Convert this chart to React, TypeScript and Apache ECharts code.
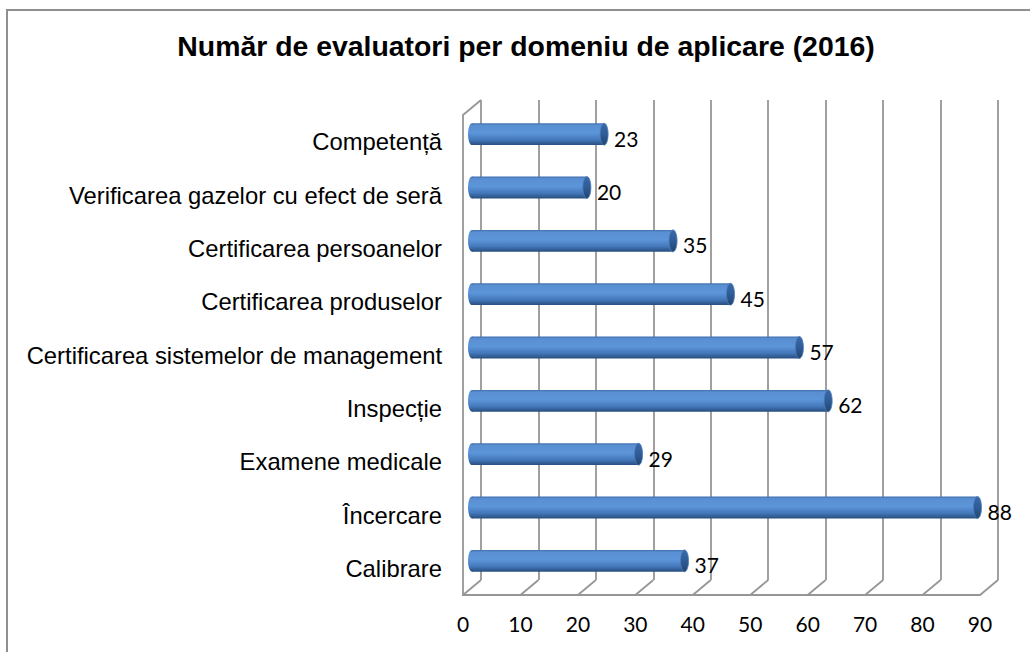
import React, { useEffect, useRef } from "react";
import * as echarts from "echarts";

const TITLE = "Număr de evaluatori per domeniu de aplicare (2016)";
const CATEGORIES = [
  "Competență",
  "Verificarea gazelor cu efect de seră",
  "Certificarea persoanelor",
  "Certificarea produselor",
  "Certificarea sistemelor de management",
  "Inspecție",
  "Examene medicale",
  "Încercare",
  "Calibrare",
];
const VALUES = [23, 20, 35, 45, 57, 62, 29, 88, 37];
const AXIS_TICKS = [0, 10, 20, 30, 40, 50, 60, 70, 80, 90];
const AXIS_MIN = 0;
const AXIS_MAX = 90;
const AXIS_STEP = 10;

// 3D depth offsets (style)
const DX = 18;
const DY = 15;
const GRID_W = 517;
const GRID_H = 480;
const FRONT_LEFT = 463;
const FRONT_TOP = 115;

const GRID_COLOR = "#969696";
const GRID_WIDTH = 1.8;

export default function App() {
  const ref = useRef<HTMLDivElement>(null);
  useEffect(() => {
    if (!ref.current) return;
    const chart = echarts.init(ref.current, null, { renderer: "svg" });
    const bodyGrad = () =>
      new echarts.graphic.LinearGradient(0, 0, 0, 1, [
        { offset: 0, color: "#3f70b0" },
        { offset: 0.1, color: "#5a8fd2" },
        { offset: 0.45, color: "#5c95d9" },
        { offset: 0.75, color: "#4479bb" },
        { offset: 1, color: "#274d7f" },
      ]);
    const capGrad = () =>
      new echarts.graphic.LinearGradient(0, 0, 0, 1, [
        { offset: 0, color: "#3a6aa8" },
        { offset: 0.5, color: "#2f5c96" },
        { offset: 1, color: "#22466f" },
      ]);

    const option: any = {
      animation: false,
      backgroundColor: "#ffffff",
      graphic: [
        {
          type: "polyline",
          silent: true,
          shape: { points: [[7, 652], [7, 10], [1030, 10]] },
          style: { stroke: "#8f8f8f", lineWidth: 2, fill: "none" },
        },
        {
          type: "text",
          x: 526,
          y: 46,
          style: {
            text: TITLE,
            font: "bold 28.4px 'Liberation Sans', Arial, sans-serif",
            fill: "#000000",
            align: "center",
            verticalAlign: "middle",
          },
        },
      ],
      grid: [
        // back wall
        { left: FRONT_LEFT + DX, top: FRONT_TOP - DY, width: GRID_W, height: GRID_H },
        // front plane
        { left: FRONT_LEFT, top: FRONT_TOP, width: GRID_W, height: GRID_H },
        // middle depth (bars)
        { left: FRONT_LEFT + DX / 2, top: FRONT_TOP - DY / 2, width: GRID_W, height: GRID_H },
      ],
      xAxis: [
        {
          gridIndex: 0,
          type: "value",
          min: AXIS_MIN,
          max: AXIS_MAX,
          interval: AXIS_STEP,
          axisLine: { show: false },
          axisTick: { show: false },
          axisLabel: { show: false },
          splitLine: { show: true, lineStyle: { color: GRID_COLOR, width: GRID_WIDTH } },
        },
        {
          gridIndex: 1,
          type: "value",
          min: AXIS_MIN,
          max: AXIS_MAX,
          interval: AXIS_STEP,
          axisLine: { show: true, lineStyle: { color: GRID_COLOR, width: GRID_WIDTH } },
          axisTick: { show: false },
          axisLabel: {
            show: true,
            margin: 18,
            color: "#000000",
            fontFamily: "Lato",
            fontSize: 21,
          },
          splitLine: { show: false },
        },
        {
          gridIndex: 2,
          type: "value",
          min: AXIS_MIN,
          max: AXIS_MAX,
          interval: AXIS_STEP,
          show: false,
          splitLine: { show: false },
        },
      ],
      yAxis: [
        {
          gridIndex: 0,
          type: "value",
          show: false,
          splitLine: { show: false },
        },
        {
          gridIndex: 1,
          type: "category",
          inverse: true,
          data: CATEGORIES,
          axisLine: { show: true, lineStyle: { color: GRID_COLOR, width: GRID_WIDTH } },
          axisTick: { show: false },
          splitLine: { show: false },
          axisLabel: {
            show: true,
            margin: 21,
            color: "#000000",
            fontFamily: "'Liberation Sans', Arial, sans-serif",
            fontSize: 23.8,
          },
        },
        {
          gridIndex: 2,
          type: "category",
          inverse: true,
          data: CATEGORIES,
          show: false,
        },
      ],
      series: [
        {
          type: "custom",
          xAxisIndex: 1,
          yAxisIndex: 1,
          clip: false,
          silent: true,
          data: AXIS_TICKS.map((v) => [v, 0]),
          renderItem: (params: any, api: any) => {
            const cs = params.coordSys;
            const x = api.coord([api.value(0), 0])[0];
            const bottom = cs.y + cs.height;
            const children: any[] = [
              {
                type: "line",
                shape: { x1: x, y1: bottom, x2: x + DX, y2: bottom - DY },
                style: { stroke: GRID_COLOR, lineWidth: GRID_WIDTH },
              },
            ];
            if (params.dataIndex === 0) {
              children.push({
                type: "line",
                shape: { x1: x, y1: cs.y, x2: x + DX, y2: cs.y - DY },
                style: { stroke: GRID_COLOR, lineWidth: GRID_WIDTH },
              });
            }
            return { type: "group", children };
          },
        },
        {
          type: "custom",
          xAxisIndex: 2,
          yAxisIndex: 2,
          clip: false,
          data: VALUES.map((v, i) => [v, i]),
          renderItem: (params: any, api: any) => {
            const v = api.value(0);
            const c = api.value(1);
            const s = api.coord([0, c]);
            const e = api.coord([v, c]);
            const h = api.size([0, 1])[1] * 0.41;
            const cy = s[1];
            const rx = 4;
            return {
              type: "group",
              children: [
                {
                  type: "ellipse",
                  shape: { cx: s[0], cy, rx, ry: h / 2 },
                  style: { fill: bodyGrad() },
                },
                {
                  type: "rect",
                  shape: { x: s[0], y: cy - h / 2, width: e[0] - s[0], height: h },
                  style: { fill: bodyGrad() },
                },
                {
                  type: "ellipse",
                  shape: { cx: e[0], cy, rx, ry: h / 2 },
                  style: { fill: capGrad(), stroke: "#4a7cbd", lineWidth: 0.8 },
                },
                {
                  type: "text",
                  x: e[0] + 10,
                  y: cy + 4,
                  style: {
                    text: String(v),
                    font: "21px Lato",
                    fill: "#000000",
                    align: "left",
                    verticalAlign: "middle",
                  },
                },
              ],
            };
          },
        },
      ],
    };
    chart.setOption(option);
    return () => chart.dispose();
  }, []);
  return (
    <div
      ref={ref}
      style={{ position: "fixed", left: 0, top: 0, width: 1030, height: 652, background: "#fff" }}
    />
  );
}
